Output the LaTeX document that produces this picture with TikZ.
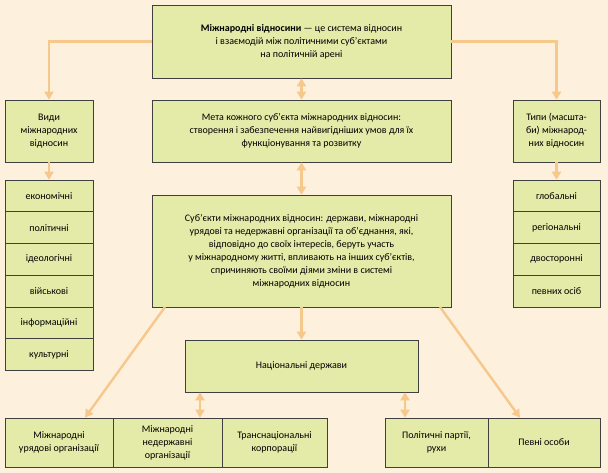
\documentclass[tikz,border=0pt]{standalone}
\usepackage{fontspec}
\setmainfont{Carlito}
\usetikzlibrary{arrows.meta,positioning}
\definecolor{bgc}{HTML}{FDF1DE}
\definecolor{boxc}{HTML}{E4EBA8}
\definecolor{arrc}{HTML}{F6C88C}
\tikzset{
  box/.style={draw=black!75,fill=boxc,line width=0.6pt,align=center,inner sep=2pt,
    font=\fontsize{10}{13}\selectfont},
  arr/.style={draw=arrc,line width=2.4pt,-{Triangle[length=8pt,width=9pt]}},
  darr/.style={draw=arrc,line width=2.4pt,{Triangle[length=8pt,width=9pt]}-{Triangle[length=8pt,width=9pt]}}
}
\begin{document}
\begin{tikzpicture}[x=1pt,y=-1pt]
  \fill[bgc] (0,0) rectangle (608,473);
  \useasboundingbox (0,0) rectangle (608,473);
  % central column
  \node (def) [box,minimum width=299pt,minimum height=73pt] at (301.5,41.5)
    {\textbf{Міжнародні відносини} — це система відносин\\ і взаємодій між політичними суб’єктами\\ на політичній арені};
  \node (goal) [box,minimum width=299pt,minimum height=62pt] at (301.5,131)
    {Мета кожного суб’єкта міжнародних відносин:\\ створення і забезпечення найвигідніших умов для їх\\ функціонування та розвитку};
  \node (subj) [box,minimum width=299pt,minimum height=112pt] at (301.5,251)
    {Суб’єкти міжнародних відносин: держави, міжнародні\\ урядові та недержавні організації та об’єднання, які,\\ відповідно до своїх інтересів, беруть участь\\ у міжнародному житті, впливають на інших суб’єктів,\\ спричиняють своїми діями зміни в системі\\ міжнародних відносин};
  \node (nat) [box,minimum width=233pt,minimum height=52pt] at (301.5,366) {Національні держави};
  % side columns
  \node (kinds) [box,minimum width=88pt,minimum height=62pt] at (49,131) {Види\\ міжнародних\\ відносин};
  \node (types) [box,minimum width=87pt,minimum height=62pt] at (556.5,131) {Типи (масшта-\\би) міжнарод-\\них відносин};
  \foreach \t [count=\i] in {економічні,політичні,ідеологічні,військові,інформаційні,культурні}
    \node (k\i) [box,minimum width=88pt,minimum height=31.7pt] at (49,164.2+31.7*\i) {\t};
  \foreach \t [count=\i] in {глобальні,регіональні,двосторонні,певних осіб}
    \node (t\i) [box,minimum width=87pt,minimum height=31.7pt] at (556.5,164.2+31.7*\i) {\t};
  % bottom row
  \node (igo) [box,minimum width=108pt,minimum height=49pt] at (59,442.5) {Міжнародні\\ урядові організації};
  \node (ngo) [box,minimum width=109pt,minimum height=49pt] at (167.5,442.5) {Міжнародні\\ недержавні\\ організації};
  \node (tnc) [box,minimum width=105pt,minimum height=49pt] at (274.5,442.5) {Транснаціональні\\ корпорації};
  \node (par) [box,minimum width=103pt,minimum height=49pt] at (436.5,442.5) {Політичні партії,\\ рухи};
  \node (per) [box,minimum width=112pt,minimum height=49pt] at (544,442.5) {Певні особи};
  % connectors
  \draw[arr] (def.west) -| (kinds.north);
  \draw[arr] (def.east) -| (types.north);
  \draw[arr] (kinds) -- (k1);
  \draw[arr] (types) -- (t1);
  \draw[darr] (def) -- (goal);
  \draw[darr] (goal) -- (subj);
  \draw[arr] (subj) -- (nat);
  \coordinate (sl) at (165,307);
  \coordinate (sr) at (440,307);
  \draw[arr] (sl) -- (igo.north -| 85,0);
  \draw[arr] (sr) -- (per.north -| 520,0);
  \draw[darr] (nat.south -| 200,0) -- (ngo.north -| 200,0);
  \draw[darr] (nat.south -| 405,0) -- (par.north -| 405,0);
\end{tikzpicture}
\end{document}
